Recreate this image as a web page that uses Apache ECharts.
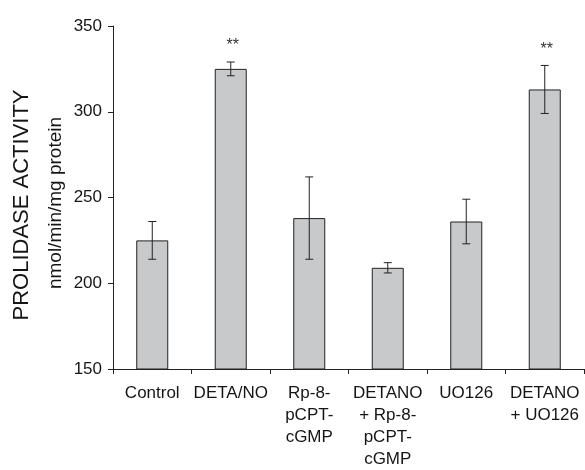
<!DOCTYPE html>
<html>
<head>
<meta charset="utf-8">
<script src="https://cdn.jsdelivr.net/npm/echarts@6/dist/echarts.min.js"></script>
<style>
    html,body{margin:0;padding:0;background:#fff;}
    #main{width:585px;height:470px;}
</style>
</head>
<body>
<div id="main"></div>
<script>
// categories along the x axis
var categories = ['Control', 'DETA/NO', 'Rp-8-\npCPT-\ncGMP', 'DETANO\n+ Rp-8-\npCPT-\ncGMP', 'UO126', 'DETANO\n+ UO126'];
// mean prolidase activity (nmol/min/mg protein)
var means = [225, 325, 238, 209, 236, 313];
// error (half length of the error bar)
var errors = [11, 4, 24, 3, 13, 14];
// significance marks
var marks = ['', '**', '', '', '', '**'];
// y axis ticks
var yMin = 150, yMax = 350, yStep = 50;

var textColor = '#151515';
var fontFamily = '"Liberation Sans", Arial, Helvetica, sans-serif';

var chart = echarts.init(document.getElementById('main'));

var errorData = means.map(function (m, i) {
    return [i, m - errors[i], m + errors[i]];
});
var markData = means.map(function (m, i) {
    return [i, m + errors[i], marks[i]];
});

var option = {
    animation: false,
    textStyle: {fontFamily: fontFamily},
    grid: {left: 113, right: 1, top: 26, bottom: 99},
    xAxis: {
        type: 'category',
        data: categories,
        axisLine: {lineStyle: {color: '#222', width: 1}},
        axisTick: {show: true, length: 5, lineStyle: {color: '#222'}},
        axisLabel: {
            color: textColor,
            fontSize: 17,
            lineHeight: 22,
            margin: 13,
            interval: 0,
            fontFamily: fontFamily
        }
    },
    yAxis: {
        type: 'value',
        min: yMin,
        max: yMax,
        interval: yStep,
        axisLine: {show: true, lineStyle: {color: '#222', width: 1}},
        axisTick: {show: true, length: 5, lineStyle: {color: '#222'}},
        splitLine: {show: false},
        axisLabel: {color: textColor, fontSize: 17, margin: 11, fontFamily: fontFamily}
    },
    graphic: [
        {
            type: 'text',
            x: 22, y: 205,
            rotation: Math.PI / 2,
            style: {
                text: 'PROLIDASE ACTIVITY',
                fill: textColor,
                font: '22px ' + fontFamily,
                textAlign: 'center',
                textVerticalAlign: 'middle'
            }
        },
        {
            type: 'text',
            x: 56, y: 203,
            rotation: Math.PI / 2,
            style: {
                text: 'nmol/min/mg protein',
                fill: textColor,
                font: '19px ' + fontFamily,
                textAlign: 'center',
                textVerticalAlign: 'middle'
            }
        }
    ],
    series: [
        {
            type: 'bar',
            data: means,
            barWidth: 32,
            itemStyle: {color: '#c8c9cb', borderColor: '#222', borderWidth: 1}
        },
        {
            type: 'custom',
            data: errorData,
            z: 5,
            renderItem: function (params, api) {
                var top = api.coord([api.value(0), api.value(2)]);
                var bot = api.coord([api.value(0), api.value(1)]);
                var half = 4;
                var style = {stroke: '#222', lineWidth: 1};
                return {
                    type: 'group',
                    children: [
                        {type: 'line', shape: {x1: top[0], y1: top[1], x2: bot[0], y2: bot[1]}, style: style},
                        {type: 'line', shape: {x1: top[0] - half, y1: top[1], x2: top[0] + half, y2: top[1]}, style: style},
                        {type: 'line', shape: {x1: bot[0] - half, y1: bot[1], x2: bot[0] + half, y2: bot[1]}, style: style}
                    ]
                };
            }
        },
        {
            type: 'custom',
            data: markData,
            z: 6,
            renderItem: function (params, api) {
                var p = api.coord([api.value(0), api.value(1)]);
                return {
                    type: 'text',
                    x: p[0] + 2,
                    y: p[1] - 8,
                    style: {
                        text: markData[params.dataIndex][2],
                        fill: '#333',
                        font: '16px ' + fontFamily,
                        textAlign: 'center',
                        textVerticalAlign: 'bottom'
                    }
                };
            }
        }
    ]
};

chart.setOption(option);
</script>
</body>
</html>
